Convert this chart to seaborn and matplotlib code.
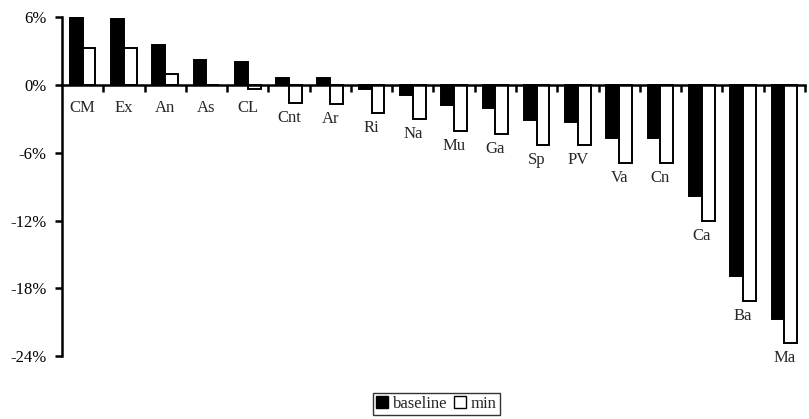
import matplotlib
matplotlib.use("Agg")
import matplotlib.pyplot as plt
import seaborn as sns
import pandas as pd
from matplotlib.patches import Patch
from matplotlib.ticker import FuncFormatter

categories = ["CM", "Ex", "An", "As", "CL", "Cnt", "Ar", "Ri", "Na", "Mu",
              "Ga", "Sp", "PV", "Va", "Cn", "Ca", "Ba", "Ma"]
baseline = [6.0, 5.8, 3.5, 2.2, 2.0, 0.6, 0.6, -0.4, -0.9, -1.8,
            -2.0, -3.1, -3.3, -4.7, -4.7, -9.8, -16.9, -20.7]
minimum = [3.3, 3.3, 1.0, 0.0, -0.4, -1.6, -1.7, -2.5, -3.0, -4.1,
           -4.3, -5.3, -5.3, -6.9, -6.9, -12.0, -19.1, -22.8]
series_names = ["baseline", "min"]
yticks = [6, 0, -6, -12, -18, -24]

df = pd.DataFrame({
    "cat": categories * 2,
    "val": baseline + minimum,
    "series": [series_names[0]] * len(categories) + [series_names[1]] * len(categories),
})

sns.set_style("white")
plt.rcParams["font.family"] = ["Liberation Serif", "DejaVu Serif"]

fig = plt.figure(figsize=(8.09, 4.19), dpi=100)
ax = fig.add_axes([0.0766, 0.150, 0.9184, 0.809])

sns.barplot(data=df, x="cat", y="val", hue="series", order=categories,
            hue_order=series_names, palette=["black", "white"],
            edgecolor="black", linewidth=1.4, width=0.62, ax=ax,
            legend=False, errorbar=None)

ax.set_ylim(-24, 6)
ax.set_xlim(-0.5, len(categories) - 0.5)
ax.set_yticks(yticks)
ax.yaxis.set_major_formatter(FuncFormatter(lambda v, p: f"{int(v)}%"))
ax.set_xticks([i + 0.5 for i in range(len(categories))])
ax.set_xticklabels([])
ax.set_xlabel("")
ax.set_ylabel("")

for s in ["top", "right"]:
    ax.spines[s].set_visible(False)
ax.spines["bottom"].set_position(("data", 0))
ax.spines["left"].set_linewidth(1.8)
ax.spines["bottom"].set_linewidth(1.8)
ax.spines["left"].set_color("black")
ax.spines["bottom"].set_color("black")
ax.tick_params(axis="y", direction="out", length=5, width=1.8, labelsize=12,
               colors="black", pad=6, left=True)
ax.tick_params(axis="x", direction="out", length=5, width=1.8, bottom=True,
               colors="black")

for i, (c, b, m) in enumerate(zip(categories, baseline, minimum)):
    low = min(b, m, -0.7)
    ax.annotate(c, xy=(i, low), xytext=(0, -5), textcoords="offset points",
                ha="center", va="top", fontsize=12)

handles = [Patch(facecolor="black", edgecolor="black", label=series_names[0]),
           Patch(facecolor="white", edgecolor="black", label=series_names[1])]
leg = fig.legend(handles=handles, loc="center", bbox_to_anchor=(0.539, 0.036),
                 ncol=2, frameon=True, fancybox=False, fontsize=12,
                 handlelength=0.75, handleheight=0.75, handletextpad=0.25,
                 columnspacing=0.4, borderpad=0.2, borderaxespad=0)
leg.get_frame().set_edgecolor("black")
leg.get_frame().set_linewidth(1.0)

fig.savefig("out.png", dpi=100)
